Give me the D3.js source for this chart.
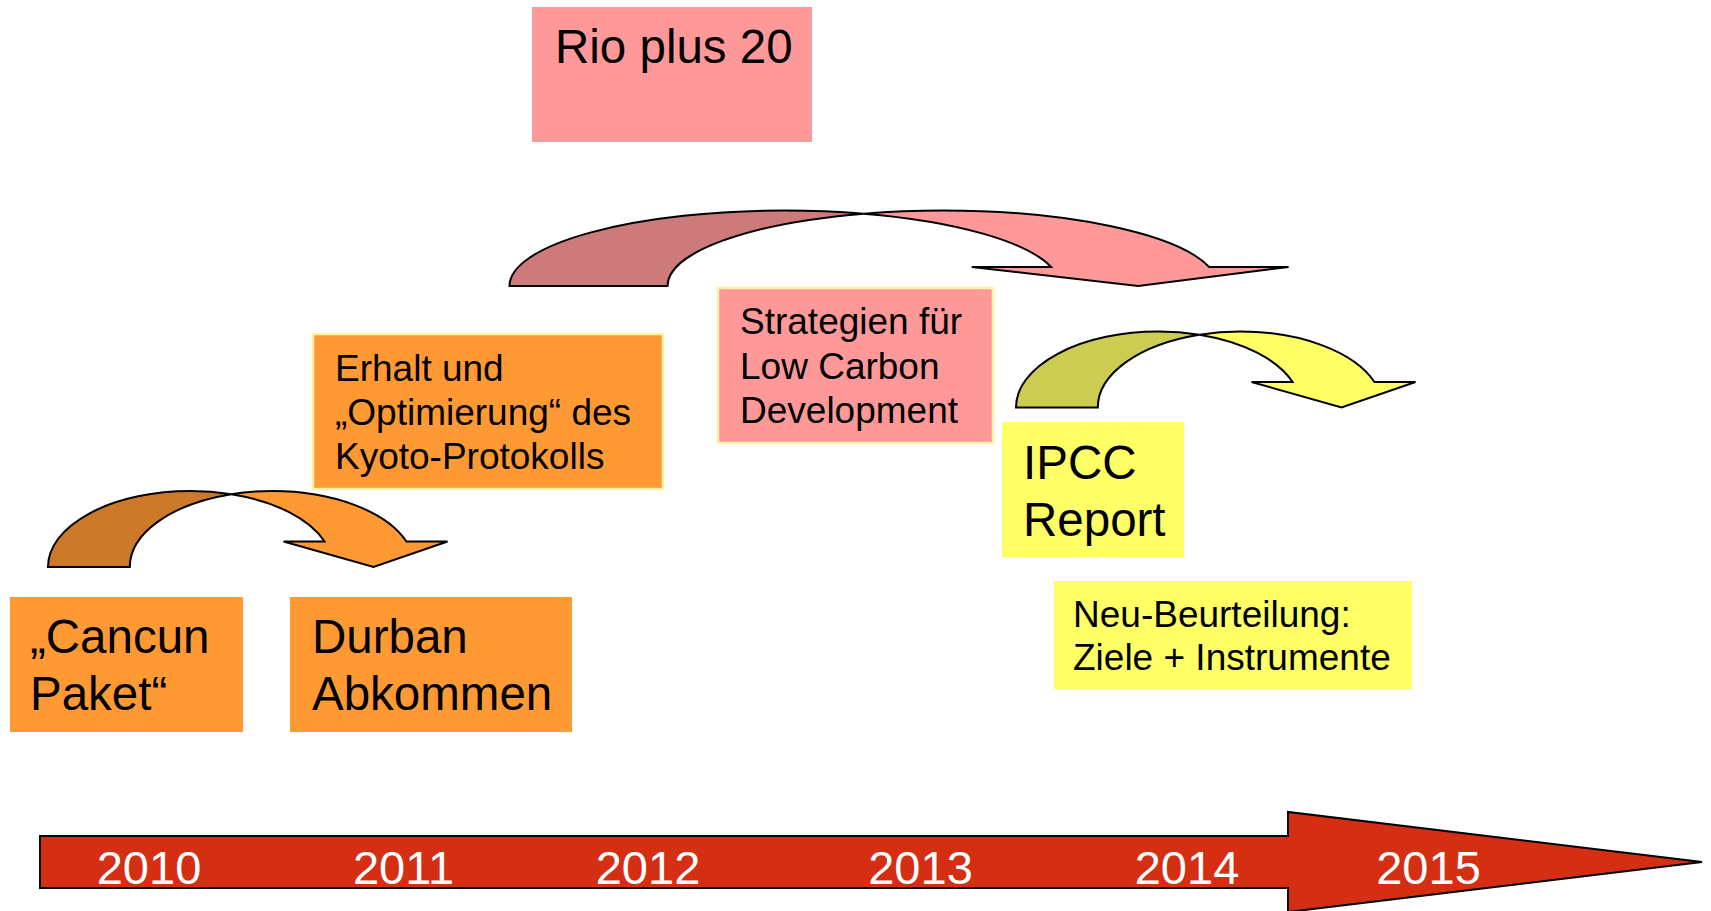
<!DOCTYPE html>
<html>
<head>
  <meta charset="utf-8">
  <title>Klimapolitik Zeitleiste 2010-2015</title>
  <script src="https://d3js.org/d3.v7.min.js"></script>
  <style>
    html, body { margin: 0; padding: 0; background: #fff; }
    svg { display: block; }
    text { font-family: "Liberation Sans", Arial, sans-serif; }
  </style>
</head>
<body>
<svg width="1711" height="911"></svg>
<script>
// --- data ---
var years = [2010, 2011, 2012, 2013, 2014, 2015]

var boxTexts = [
  ["Rio plus 20"],
  ["Erhalt und", "\u201EOptimierung\u201C des", "Kyoto-Protokolls"],
  ["Strategien f\u00FCr", "Low Carbon", "Development"],
  ["IPCC", "Report"],
  ["Neu-Beurteilung:", "Ziele + Instrumente"],
  ["\u201ECancun", "Paket\u201C"],
  ["Durban", "Abkommen"]
]
var boxTones = ["pink", "orange", "pink", "yellow", "yellow", "orange", "orange"]
var arrowTones = ["orange", "pink", "yellow"]

// --- layout / styles ---
var palette = {
  orange: { front: "#FF9933", back: "#CC7A29" },
  pink:   { front: "#FF9999", back: "#CC7A7A" },
  yellow: { front: "#FFFF66", back: "#CCCC52" }
}

// box geometry: x, y, w, h, font size, line height, text inset, first baseline, bordered
var boxLayout = [
  { x: 532, y: 7,   w: 280, h: 135, fs: 47.5, lh: 56.6, tx: 23, ty: 56, border: false },
  { x: 313, y: 334, w: 350, h: 155, fs: 37, lh: 44, tx: 22, ty: 47, border: true },
  { x: 718, y: 288, w: 275, h: 155, fs: 37, lh: 44.5, tx: 22, ty: 46, border: true },
  { x: 1002, y: 422, w: 182, h: 135, fs: 47.5, lh: 56.6, tx: 21, ty: 57, border: false },
  { x: 1054, y: 581, w: 358, h: 108, fs: 37, lh: 43, tx: 19, ty: 46, border: false },
  { x: 10,  y: 597, w: 233, h: 135, fs: 47.5, lh: 56.6, tx: 20, ty: 56, border: false },
  { x: 290, y: 597, w: 282, h: 135, fs: 47.5, lh: 56.6, tx: 22, ty: 56, border: false }
]

// curved arrow geometry: left x, span, top y, height, head depth
var arrowLayout = [
  { x: 48,   span: 399, top: 491, h: 76, ah: 25.5 },
  { x: 509.5, span: 771, top: 210.5, h: 75.5, ah: 19 },
  { x: 1016, span: 399, top: 331.5, h: 76, ah: 25.5 }
]

var svg = d3.select("svg")

// timeline scale (label spacing on the slide is not even)
var x = d3.scaleLinear().domain(years).range([149, 403.5, 648, 920.5, 1187, 1428.5])

// --- timeline arrow ---
var tl = { x0: 40, x1: 1288, tip: 1702, yMid: 862, half: 26, headHalf: 50 }
svg.append("path")
  .attr("d", d3.line()([
    [tl.x0, tl.yMid - tl.half],
    [tl.x1, tl.yMid - tl.half],
    [tl.x1, tl.yMid - tl.headHalf],
    [tl.tip, tl.yMid],
    [tl.x1, tl.yMid + tl.headHalf],
    [tl.x1, tl.yMid + tl.half],
    [tl.x0, tl.yMid + tl.half]
  ]) + "Z")
  .attr("fill", "#D42E13")
  .attr("stroke", "#000")
  .attr("stroke-width", 2)

svg.append("g")
  .selectAll("text")
  .data(years)
  .enter().append("text")
    .attr("x", function (d) { return x(d) })
    .attr("y", 883.5)
    .attr("text-anchor", "middle")
    .attr("font-size", 47)
    .attr("fill", "#fff")
    .text(function (d) { return d })

// --- curved arrows (PowerPoint style "curved down arrow") ---
function curvedArrow(a) {
  var th = 0.205 * a.span, wR = 0.357 * a.span, dh = 0.103 * a.span
  var L = a.x, T = a.top, B = a.top + a.h, h = a.h
  var c1 = L + wR, c2 = L + wR + th
  var ix = L + wR + th / 2
  var iy = B - h * Math.sqrt(1 - Math.pow((th / 2) / wR, 2))
  var y1 = B - a.ah
  var dx = wR * Math.sqrt(1 - Math.pow(a.ah / h, 2))
  var xni = c1 + dx, xno = c2 + dx
  var xhl = xni - dh, xhr = xno + dh
  var tip = (xhl + xhr) / 2 + 8
  var r = wR + "," + h + " 0 0 "
  var back = "M" + L + "," + B +
    "A" + r + "1 " + c1 + "," + T +
    "A" + r + "1 " + ix + "," + iy +
    "A" + r + "0 " + (L + th) + "," + B + "Z"
  var front = "M" + ix + "," + iy +
    "A" + r + "1 " + c2 + "," + T +
    "A" + r + "1 " + xno + "," + y1 +
    "L" + xhr + "," + y1 +
    "L" + tip + "," + B +
    "L" + xhl + "," + y1 +
    "L" + xni + "," + y1 +
    "A" + r + "0 " + ix + "," + iy + "Z"
  return { back: back, front: front }
}

var arrows = svg.append("g").selectAll("g")
  .data(arrowTones)
  .enter().append("g")

arrows.append("path")
  .attr("d", function (d, i) { return curvedArrow(arrowLayout[i]).back })
  .attr("fill", function (d) { return palette[d].back })
  .attr("stroke", "#000")
  .attr("stroke-width", 2)

arrows.append("path")
  .attr("d", function (d, i) { return curvedArrow(arrowLayout[i]).front })
  .attr("fill", function (d) { return palette[d].front })
  .attr("stroke", "#000")
  .attr("stroke-width", 2)

// --- text boxes ---
var boxes = svg.append("g").selectAll("g")
  .data(boxTexts)
  .enter().append("g")
    .attr("transform", function (d, i) {
      return "translate(" + boxLayout[i].x + "," + boxLayout[i].y + ")"
    })

boxes.append("rect")
  .attr("width", function (d, i) { return boxLayout[i].w })
  .attr("height", function (d, i) { return boxLayout[i].h })
  .attr("fill", function (d, i) { return palette[boxTones[i]].front })
  .attr("stroke", function (d, i) { return boxLayout[i].border ? "#FFF1A6" : "none" })
  .attr("stroke-width", 2.5)

boxes.each(function (lines, i) {
  var b = boxLayout[i]
  d3.select(this).append("text")
    .attr("font-size", b.fs)
    .attr("fill", "#000")
    .selectAll("tspan")
    .data(lines)
    .enter().append("tspan")
      .attr("x", b.tx)
      .attr("y", function (d, j) { return b.ty + j * b.lh })
      .text(function (d) { return d })
})
</script>
</body>
</html>
